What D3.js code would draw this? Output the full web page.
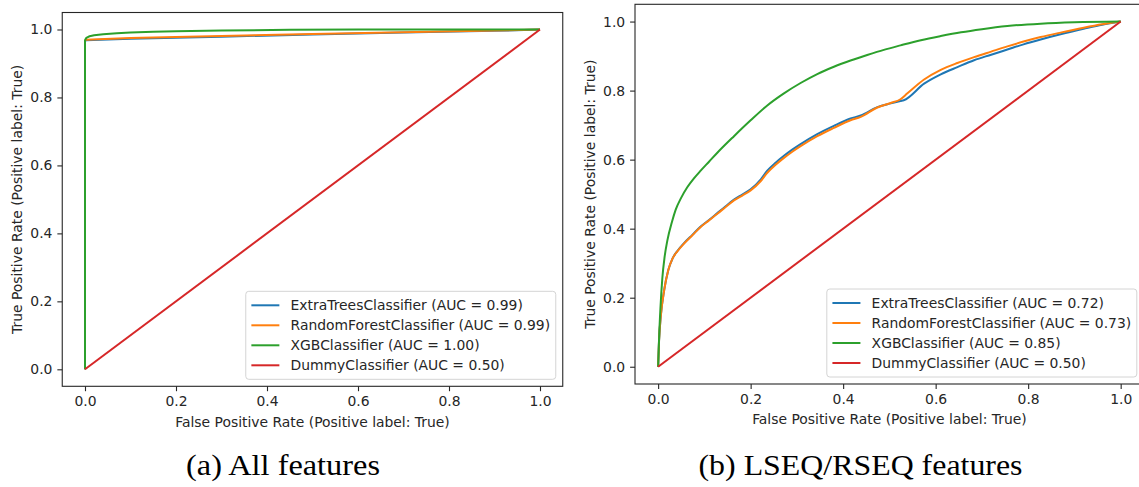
<!DOCTYPE html>
<html>
<head>
<meta charset="utf-8">
<script src="https://cdn.jsdelivr.net/npm/d3@7"></script>
<style>
  body { margin: 0; background: #fff; }
  svg { display: block; }
  text { font-family: "DejaVu Sans", sans-serif; fill: #262626; }
  text.caption { font-family: "Liberation Serif", serif; fill: #000; }
</style>
</head>
<body>
<svg id="chart" width="1139" height="487"></svg>
<script>
// classifier names + AUC per panel
const classifiers = ["ExtraTreesClassifier", "RandomForestClassifier", "XGBClassifier", "DummyClassifier"];
const aucAll = ["0.99", "0.99", "1.00", "0.50"];
const aucSeq = ["0.72", "0.73", "0.85", "0.50"];
const tickValues = [0, 0.2, 0.4, 0.6, 0.8, 1.0];
const tickLabels = ["0.0", "0.2", "0.4", "0.6", "0.8", "1.0"];
const xLabel = "False Positive Rate (Positive label: True)";
const yLabel = "True Positive Rate (Positive label: True)";
const captions = ["(a) All features", "(b) LSEQ/RSEQ features"];

// (a) all features - ROC points
const etFprAll = [0, 0, 0.002, 0.1, 0.3, 0.5, 0.7, 0.9, 1];
const etTprAll = [0, 0.965, 0.968, 0.973, 0.979, 0.985, 0.991, 0.996, 1];
const rfFprAll = [0, 0, 0.002, 0.1, 0.3, 0.5, 0.7, 0.9, 1];
const rfTprAll = [0, 0.967, 0.970, 0.975, 0.981, 0.987, 0.992, 0.997, 1];
const xgbFprAll = [0, 0, 0.002, 0.005, 0.01, 0.02, 0.04, 0.07, 0.1, 0.15, 0.2, 0.3, 0.45, 0.6, 1];
const xgbTprAll = [0, 0.968, 0.974, 0.977, 0.98, 0.983, 0.986, 0.989, 0.991, 0.993, 0.995, 0.997, 0.999, 1, 1];

// (b) LSEQ/RSEQ features
const etFprSeq = [0, 0.002, 0.006, 0.013, 0.022, 0.031, 0.042, 0.056, 0.074, 0.092, 0.11, 0.128, 0.146, 0.164,
  0.182, 0.2, 0.222, 0.236, 0.254, 0.272, 0.29, 0.308, 0.344, 0.38, 0.416, 0.438, 0.474, 0.503,
  0.524, 0.531, 0.575, 0.611, 0.647, 0.683, 0.72, 0.755, 0.79, 0.827, 0.87, 0.92, 0.96, 1];
const etTprSeq = [0, 0.076, 0.15, 0.221, 0.28, 0.313, 0.336, 0.358, 0.382, 0.406, 0.425, 0.445, 0.465, 0.484,
  0.499, 0.514, 0.543, 0.568, 0.591, 0.611, 0.629, 0.645, 0.674, 0.698, 0.719, 0.728, 0.752, 0.763,
  0.77, 0.772, 0.82, 0.847, 0.868, 0.888, 0.904, 0.919, 0.934, 0.948, 0.963, 0.979, 0.991, 1];
const rfFprSeq = [0, 0.002, 0.006, 0.013, 0.022, 0.031, 0.042, 0.056, 0.074, 0.092, 0.11, 0.128, 0.146, 0.164,
  0.182, 0.2, 0.222, 0.236, 0.254, 0.272, 0.29, 0.308, 0.344, 0.38, 0.416, 0.438, 0.474, 0.503,
  0.524, 0.539, 0.575, 0.611, 0.647, 0.683, 0.72, 0.755, 0.79, 0.827, 0.87, 0.92, 0.96, 1];
const rfTprSeq = [0, 0.076, 0.15, 0.221, 0.28, 0.313, 0.335, 0.357, 0.381, 0.405, 0.424, 0.443, 0.463, 0.482,
  0.496, 0.511, 0.538, 0.562, 0.585, 0.605, 0.623, 0.639, 0.668, 0.692, 0.714, 0.724, 0.751, 0.764,
  0.775, 0.792, 0.832, 0.86, 0.88, 0.897, 0.913, 0.928, 0.942, 0.955, 0.968, 0.982, 0.992, 1];
const xgbFprSeq = [0, 0.001, 0.002, 0.005, 0.009, 0.014, 0.02, 0.03, 0.038, 0.05, 0.063, 0.077, 0.092, 0.11,
  0.128, 0.164, 0.2, 0.236, 0.272, 0.308, 0.344, 0.38, 0.416, 0.452, 0.488, 0.524, 0.568, 0.611,
  0.655, 0.7, 0.755, 0.827, 0.9, 1];
const xgbTprSeq = [0, 0.04, 0.08, 0.17, 0.255, 0.318, 0.366, 0.42, 0.455, 0.49, 0.52, 0.545, 0.568, 0.594,
  0.62, 0.668, 0.714, 0.757, 0.792, 0.822, 0.848, 0.869, 0.887, 0.903, 0.918, 0.931, 0.946, 0.958,
  0.969, 0.978, 0.987, 0.994, 0.998, 1];

// chance line, same in both panels
const dummyFpr = [0, 1];
const dummyTpr = [0, 1];

const colors = ["#1f77b4", "#ff7f0e", "#2ca02c", "#d62728"];

const svg = d3.select("#chart");

function drawPanel(box, series, aucs, curve, caption, captionX, captionW) {
  const x = d3.scaleLinear().domain([-0.05, 1.05]).range([box.left, box.right]);
  const y = d3.scaleLinear().domain([-0.05, 1.05]).range([box.bottom, box.top]);
  const g = svg.append("g");

  // curves
  const line = d3.line().x((d) => x(d[0])).y((d) => y(d[1])).curve(curve);
  series.forEach((s, i) => {
    g.append("path")
      .datum(d3.zip(s[0], s[1]))
      .attr("fill", "none")
      .attr("stroke", colors[i])
      .attr("stroke-width", 2)
      .attr("stroke-linejoin", "round")
      .attr("d", line);
  });

  // axes (ticks only, spines drawn as a box)
  const xAxis = g.append("g")
    .attr("transform", `translate(0,${box.bottom})`)
    .call(d3.axisBottom(x).tickValues(tickValues).tickFormat((d, i) => tickLabels[i])
      .tickSize(4.9).tickPadding(4.9));
  const yAxis = g.append("g")
    .attr("transform", `translate(${box.left},0)`)
    .call(d3.axisLeft(y).tickValues(tickValues).tickFormat((d, i) => tickLabels[i])
      .tickSize(4.9).tickPadding(4.9));
  [xAxis, yAxis].forEach((a) => {
    a.select(".domain").remove();
    a.selectAll(".tick line").attr("stroke", "#262626").attr("stroke-width", 1.1);
    a.selectAll(".tick text").attr("font-size", 13.9);
  });

  g.append("rect")
    .attr("x", box.left).attr("y", box.top)
    .attr("width", box.right - box.left).attr("height", box.bottom - box.top)
    .attr("fill", "none").attr("stroke", "#262626").attr("stroke-width", 1.1);

  // axis labels
  g.append("text")
    .attr("x", (box.left + box.right) / 2).attr("y", box.bottom + 35.5)
    .attr("dy", "0.35em").attr("text-anchor", "middle").attr("font-size", 13.9)
    .text(xLabel);
  g.append("text")
    .attr("transform", `translate(${box.left - 45},${(box.top + box.bottom) / 2}) rotate(-90)`)
    .attr("dy", "0.35em").attr("text-anchor", "middle").attr("font-size", 13.9)
    .text(yLabel);

  // legend, lower right
  const lg = g.append("g");
  const rows = classifiers.map((c, i) => `${c} (AUC = ${aucs[i]})`);
  const texts = lg.selectAll("text").data(rows).join("text")
    .attr("font-size", 13.9).attr("dy", "0.35em").text((d) => d);
  let maxW = 0;
  texts.each(function () { maxW = Math.max(maxW, this.getComputedTextLength()); });
  const boxW = 5.6 + 28 + 11.2 + maxW + 5.6;
  const boxH = 88;
  const bx = box.right - 7 - boxW;
  const by = box.bottom - 7 - boxH;
  lg.insert("rect", ":first-child")
    .attr("x", bx).attr("y", by).attr("width", boxW).attr("height", boxH)
    .attr("rx", 3).attr("fill", "#fff").attr("fill-opacity", 0.8)
    .attr("stroke", "#d4d4d4").attr("stroke-width", 1);
  texts.attr("x", bx + 44.8).attr("y", (d, i) => by + 14 + 20 * i);
  lg.selectAll("line").data(rows).join("line")
    .attr("x1", bx + 5.6).attr("x2", bx + 33.6)
    .attr("y1", (d, i) => by + 14 + 20 * i).attr("y2", (d, i) => by + 14 + 20 * i)
    .attr("stroke", (d, i) => colors[i]).attr("stroke-width", 2);

  // caption under the subfigure
  svg.append("text")
    .attr("class", "caption")
    .attr("x", captionX).attr("y", 475)
    .attr("text-anchor", "middle")
    .attr("font-size", 29)
    .attr("textLength", captionW).attr("lengthAdjust", "spacingAndGlyphs")
    .text(caption);
}

drawPanel(
  { left: 62.25, right: 562.75, top: 12.5, bottom: 386.3 },
  [[etFprAll, etTprAll], [rfFprAll, rfTprAll], [xgbFprAll, xgbTprAll], [dummyFpr, dummyTpr]],
  aucAll, d3.curveLinear, captions[0], 283, 194
);
drawPanel(
  { left: 635, right: 1143.8, top: 4.3, bottom: 384 },
  [[etFprSeq, etTprSeq], [rfFprSeq, rfTprSeq], [xgbFprSeq, xgbTprSeq], [dummyFpr, dummyTpr]],
  aucSeq, d3.curveMonotoneX, captions[1], 860.5, 324
);
</script>
</body>
</html>
